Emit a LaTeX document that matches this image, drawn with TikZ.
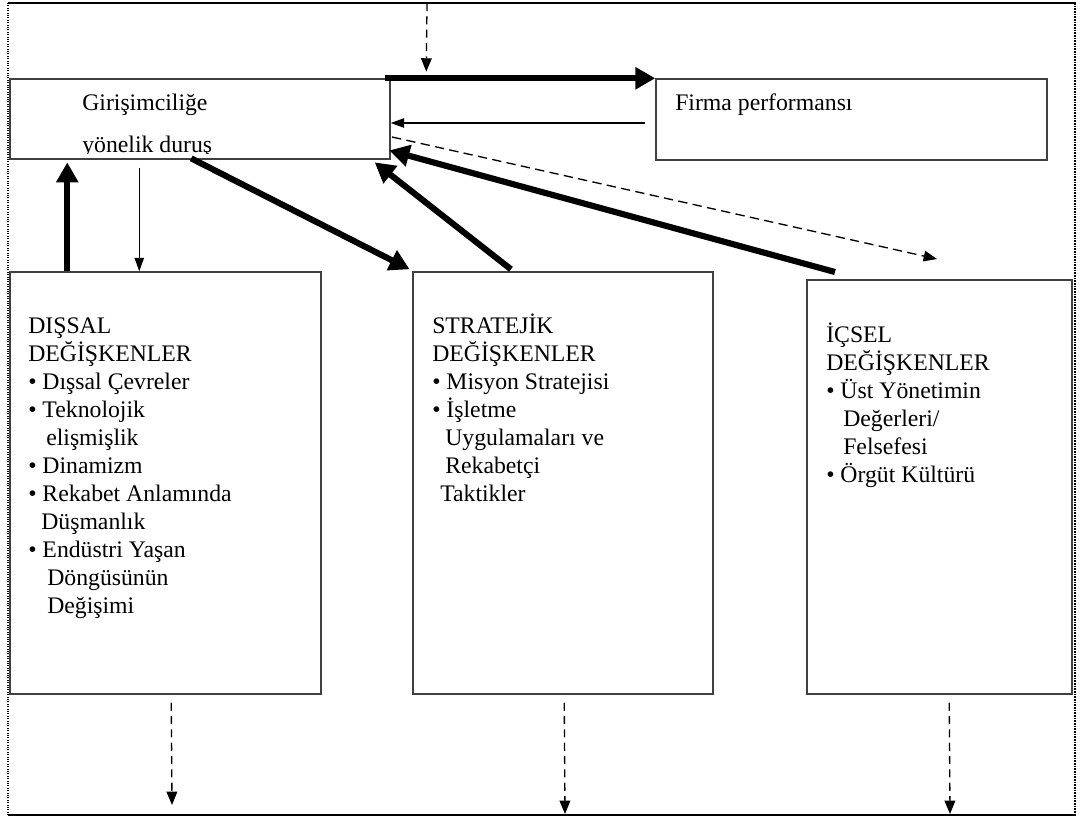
\documentclass[tikz,border=0pt]{standalone}
\usepackage{fontspec}
\setmainfont{Liberation Serif}
\usetikzlibrary{arrows.meta,fit}
\begin{document}
\begin{tikzpicture}[x=0.75pt,y=-0.75pt,
  boxst/.style={draw=black!75, line width=1.1pt, inner sep=0pt},
  lbl/.style={anchor=north west, align=left, inner sep=0pt, font=\fontsize{17.8}{21}\selectfont},
  one/.style={anchor=base west, inner sep=0pt, font=\fontsize{17.8}{21}\selectfont},
  thickarr/.style={line width=4.6pt, -{Triangle[length=15pt,width=16pt]}},
  thinarr/.style={line width=1pt, -{Triangle[length=10pt,width=7pt]}},
  dasharr/.style={line width=1pt, dash pattern=on 6pt off 4pt, -{Triangle[length=10pt,width=8pt]}}]
\useasboundingbox (0,0) rectangle (1081,819);
% frame
\draw[line width=2.2pt] (8,3) -- (1076,3);
\draw[line width=0.8pt, densely dotted] (8,3) -- (8,815);
\draw[line width=2pt, dash pattern=on 1.2pt off 0.8pt] (1075,3) -- (1075,815);
\draw[line width=1.3pt] (8,815) -- (1076,815);
% boxes
\node[boxst, fit={(10,79) (390,159)}] (gir) {};
\node[boxst, fit={(656,79) (1047,160)}] (firma) {};
\node[boxst, fit={(10,272) (321,694)}] (dis) {};
\node[boxst, fit={(413,272) (713,694)}] (str) {};
\node[boxst, fit={(807,280) (1072,694)}] (ic) {};
% texts
\node[one] (g1) at (82,110.7) {Girişimciliğe};
\begin{scope}
\clip (10,79) rectangle (390,153);
\node[one] (g2) at (82,152.5) {yönelik duruş};
\end{scope}
\node[one] (ft) at (675,110) {Firma performansı};
\node[lbl] (dt) at (28,309) {\rule{0pt}{18pt}DIŞSAL\\
DEĞİŞKENLER\\
• Dışsal Çevreler\\
• Teknolojik\\
\hspace*{13.5pt}elişmişlik\\
• Dinamizm\\
• Rekabet Anlamında\\
\hspace*{9.75pt}Düşmanlık\\
• Endüstri Yaşan\\
\hspace*{14.25pt}Döngüsünün\\
\hspace*{14.25pt}Değişimi};
\node[lbl] (st) at (432,309) {\rule{0pt}{18pt}STRATEJİK\\
DEĞİŞKENLER\\
• Misyon Stratejisi\\
• İşletme\\
\hspace*{9.75pt}Uygulamaları ve\\
\hspace*{9.75pt}Rekabetçi\\
\hspace*{6pt}Taktikler};
\node[lbl] (it) at (826,318) {\rule{0pt}{18pt}İÇSEL\\
DEĞİŞKENLER\\
• Üst Yönetimin\\
\hspace*{12.75pt}Değerleri/\\
\hspace*{12.75pt}Felsefesi\\
• Örgüt Kültürü};
% coordinates for free ends
\coordinate (ftop) at (427,3);
\coordinate (fback) at (645,123);
\coordinate (dstart) at (392,137);
\coordinate (dend) at (937,259);
\coordinate (icstart) at (835,272);
\coordinate (b1e) at (172,805);
\coordinate (b2e) at (565,814);
\coordinate (b3e) at (950,814);
% connectors
\draw[dasharr] (ftop) -- ([xshift=312.75pt,yshift=5pt]gir.north west);
\draw[thickarr] ([xshift=-4pt]gir.north east) -- (firma.north west);
\draw[thinarr] (fback) -- (fback -| gir.east);
\draw[dasharr, dash pattern=on 7pt off 4pt] (dstart) -- (dend);
\draw[thickarr] (icstart) -- ([xshift=-1pt,yshift=7pt]gir.south east);
\draw[thickarr] ([xshift=74pt,yshift=1.5pt]str.north west) -- ([xshift=-12pt,yshift=-2pt]gir.south east);
\draw[thickarr] ([xshift=136.5pt,yshift=1pt]gir.south west) -- ([xshift=-2pt,yshift=1.5pt]str.north west);
\draw[thickarr] ([xshift=43.5pt]dis.north west) -- ([xshift=43.5pt,yshift=-2pt]gir.south west);
\draw[thinarr] ([xshift=97.5pt,yshift=-6pt]gir.south west) -- ([xshift=97.5pt]dis.north west);
\draw[dasharr] ([xshift=121.5pt,yshift=-6pt]dis.south west) -- (b1e);
\draw[dasharr] ([xshift=114pt,yshift=-6pt]str.south west) -- (b2e);
\draw[dasharr] ([xshift=107.25pt,yshift=-6pt]ic.south west) -- (b3e);
\end{tikzpicture}
\end{document}
